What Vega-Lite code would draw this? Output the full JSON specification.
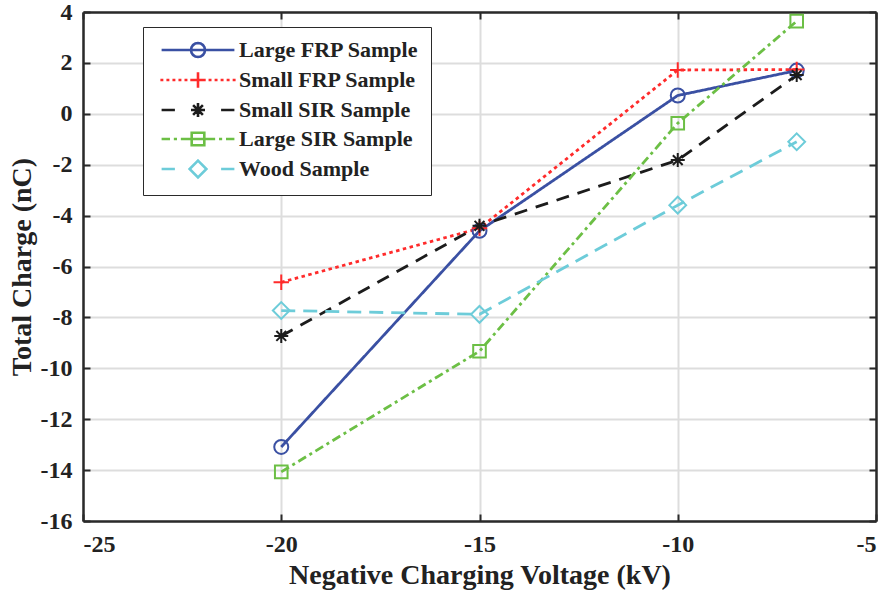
{
  "$schema": "https://vega.github.io/schema/vega-lite/v6.json",
  "width": 793,
  "height": 509,
  "autosize": {"type": "none"},
  "padding": {"left": 83, "top": 12, "right": 11, "bottom": 76},
  "background": "white",
  "config": {
    "font": "Liberation Serif",
    "view": {"stroke": null},
    "axis": {
      "labelFont": "Liberation Serif",
      "labelFontWeight": "bold",
      "labelFontSize": 24,
      "labelColor": "#222222",
      "labelExpr": "toString(datum.value)",
      "titleFont": "Liberation Serif",
      "titleFontWeight": "bold",
      "titleFontSize": 28,
      "titleColor": "#222222",
      "gridColor": "#dddddd",
      "gridWidth": 2,
      "gridOpacity": 1,
      "domainColor": "#2a2a2a",
      "domainWidth": 2.5,
      "tickColor": "#2a2a2a",
      "tickWidth": 2,
      "tickSize": -7
    },
    "legend": {
      "orient": "none",
      "legendX": 60,
      "legendY": 15,
      "direction": "vertical",
      "fillColor": "white",
      "strokeColor": "#2a2a2a",
      "padding": 12,
      "symbolSize": 196,
      "symbolOffset": 32,
      "labelOffset": 30,
      "symbolOpacity": 1,
      "symbolStrokeWidth": 2.6,
      "symbolFillColor": "transparent",
      "labelFont": "Liberation Serif",
      "labelFontWeight": "bold",
      "labelFontSize": 22,
      "labelColor": "#222222",
      "rowPadding": 4,
      "labelLimit": 400
    }
  },
  "data": {
    "values": [
      {"voltage": -20, "charge": -13.09, "series": "Large FRP Sample"},
      {"voltage": -15, "charge": -4.6, "series": "Large FRP Sample"},
      {"voltage": -10, "charge": 0.72, "series": "Large FRP Sample"},
      {"voltage": -7, "charge": 1.7, "series": "Large FRP Sample"},
      {"voltage": -20, "charge": -6.62, "series": "Small FRP Sample"},
      {"voltage": -15, "charge": -4.5, "series": "Small FRP Sample"},
      {"voltage": -10, "charge": 1.72, "series": "Small FRP Sample"},
      {"voltage": -7, "charge": 1.74, "series": "Small FRP Sample"},
      {"voltage": -20, "charge": -8.73, "series": "Small SIR Sample"},
      {"voltage": -15, "charge": -4.4, "series": "Small SIR Sample"},
      {"voltage": -10, "charge": -1.82, "series": "Small SIR Sample"},
      {"voltage": -7, "charge": 1.52, "series": "Small SIR Sample"},
      {"voltage": -20, "charge": -14.07, "series": "Large SIR Sample"},
      {"voltage": -15, "charge": -9.33, "series": "Large SIR Sample"},
      {"voltage": -10, "charge": -0.37, "series": "Large SIR Sample"},
      {"voltage": -7, "charge": 3.64, "series": "Large SIR Sample"},
      {"voltage": -20, "charge": -7.73, "series": "Wood Sample"},
      {"voltage": -15, "charge": -7.88, "series": "Wood Sample"},
      {"voltage": -10, "charge": -3.59, "series": "Wood Sample"},
      {"voltage": -7, "charge": -1.1, "series": "Wood Sample"}
    ]
  },
  "layer": [
    {
      "mark": {"type": "line", "strokeWidth": 2.8, "clip": true},
      "encoding": {
        "x": {
          "field": "voltage", "type": "quantitative",
          "scale": {"domain": [-25, -5], "nice": false, "zero": false},
          "axis": {
            "orient": "bottom",
            "values": [-25, -20, -15, -10, -5],
            "title": "Negative Charging Voltage (kV)",
            "labelPadding": 18,
            "titlePadding": 5,
            "grid": true
          }
        },
        "y": {
          "field": "charge", "type": "quantitative",
          "scale": {"domain": [-16, 4], "nice": false, "zero": false},
          "axis": {
            "orient": "left",
            "values": [-16, -14, -12, -10, -8, -6, -4, -2, 0, 2, 4],
            "title": "Total Charge (nC)",
            "labelPadding": 18,
            "titlePadding": 4,
            "grid": true
          }
        },
        "color": {
          "field": "series", "type": "nominal",
          "scale": {
            "domain": ["Large FRP Sample", "Small FRP Sample", "Small SIR Sample", "Large SIR Sample", "Wood Sample"],
            "range": ["#3a50a3", "#ff2b2b", "#1c1c1c", "#6cbf45", "#6dccd9"]
          },
          "legend": null
        },
        "strokeDash": {
          "field": "series", "type": "nominal",
          "scale": {
            "domain": ["Large FRP Sample", "Small FRP Sample", "Small SIR Sample", "Large SIR Sample", "Wood Sample"],
            "range": [[1, 0], [3.5, 3.5], [13, 9], [9, 4, 3, 4], [14, 8]]
          },
          "legend": null
        }
      }
    },
    {
      "mark": {"type": "point", "filled": false, "strokeWidth": 2, "size": 196, "opacity": 1},
      "encoding": {
        "x": {
          "field": "voltage", "type": "quantitative",
          "axis": {
            "orient": "top",
            "values": [-25, -20, -15, -10, -5],
            "labels": false,
            "title": null,
            "grid": false
          }
        },
        "y": {
          "field": "charge", "type": "quantitative",
          "axis": {
            "orient": "right",
            "values": [-16, -14, -12, -10, -8, -6, -4, -2, 0, 2, 4],
            "labels": false,
            "title": null,
            "grid": false
          }
        },
        "color": {"field": "series", "type": "nominal", "legend": null},
        "shape": {
          "field": "series", "type": "nominal",
          "scale": {
            "domain": ["Large FRP Sample", "Small FRP Sample", "Small SIR Sample", "Large SIR Sample", "Wood Sample"],
            "range": [
              "circle",
              "M-1.1,0L1.1,0M0,-1.1L0,1.1",
              "M-1,0L1,0M0,-1L0,1M-0.7,-0.7L0.7,0.7M-0.7,0.7L0.7,-0.7",
              "M-0.9,-0.9L0.9,-0.9L0.9,0.9L-0.9,0.9Z",
              "M0,-1.2L1.2,0L0,1.2L-1.2,0Z"
            ]
          },
          "legend": null
        }
      }
    },
    {
      "mark": {"type": "point", "filled": false, "strokeWidth": 2.6, "size": 196, "opacity": 0},
      "encoding": {
        "x": {"field": "voltage", "type": "quantitative", "axis": null},
        "y": {"field": "charge", "type": "quantitative", "axis": null},
        "stroke": {
          "field": "series", "type": "nominal",
          "scale": {
            "domain": ["Large FRP Sample", "Small FRP Sample", "Small SIR Sample", "Large SIR Sample", "Wood Sample"],
            "range": ["#3a50a3", "#ff2b2b", "#1c1c1c", "#6cbf45", "#6dccd9"]
          },
          "legend": {"title": null}
        },
        "shape": {
          "field": "series", "type": "nominal",
          "scale": {
            "domain": ["Large FRP Sample", "Small FRP Sample", "Small SIR Sample", "Large SIR Sample", "Wood Sample"],
            "range": [
              "M-5.2,0L5.2,0M1,0L0.924,0.383L0.707,0.707L0.383,0.924L0,1L-0.383,0.924L-0.707,0.707L-0.924,0.383L-1,0L-0.924,-0.383L-0.707,-0.707L-0.383,-0.924L0,-1L0.383,-0.924L0.707,-0.707L0.924,-0.383Z",
              "M-5.37,0L-4.95,0M-4.51,0L-4.09,0M-3.65,0L-3.23,0M-2.79,0L-2.37,0M-1.93,0L-1.51,0M-1.07,0L-0.65,0M-0.21,0L0.21,0M0.65,0L1.07,0M1.51,0L1.93,0M2.37,0L2.79,0M3.23,0L3.65,0M4.09,0L4.51,0M4.95,0L5.37,0M-1.1,0L1.1,0M0,-1.1L0,1.1",
              "M-5.2,0L-3.3,0M3.3,0L5.2,0M-1,0L1,0M0,-1L0,1M-0.7,-0.7L0.7,0.7M-0.7,0.7L0.7,-0.7",
              "M-5.2,0L-4,0M-3.45,0L-3,0M-2.45,0L2.45,0M3,0L3.45,0M4,0L5.2,0M-0.9,-0.9L0.9,-0.9L0.9,0.9L-0.9,0.9Z",
              "M-5.2,0L-3.3,0M3.3,0L5.2,0M0,-1.2L1.2,0L0,1.2L-1.2,0Z"
            ]
          },
          "legend": {"title": null}
        }
      }
    }
  ],
  "resolve": {
    "axis": {"x": "independent", "y": "independent"},
    "scale": {"shape": "independent", "stroke": "independent"}
  }
}
